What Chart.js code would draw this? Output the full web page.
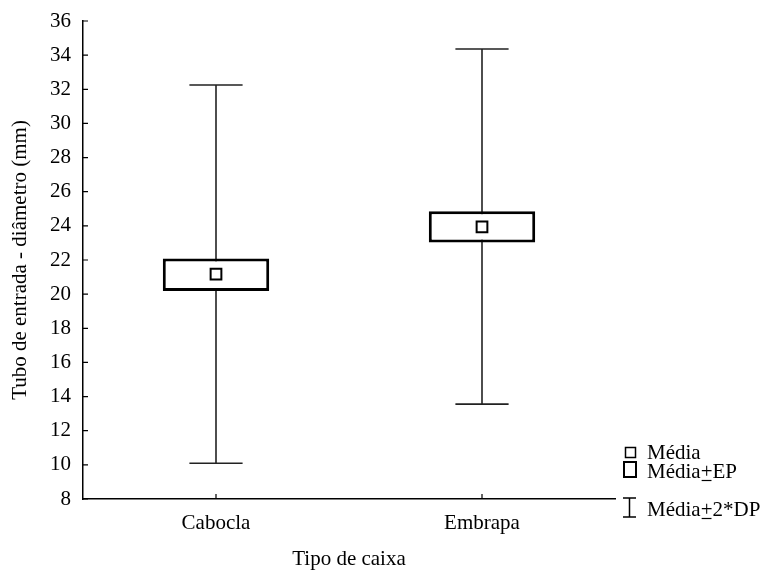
<!DOCTYPE html>
<html>
<head>
<meta charset="utf-8">
<script src="https://cdn.jsdelivr.net/npm/chart.js@4/dist/chart.umd.min.js"></script>
<style>
  html, body { margin: 0; padding: 0; background: #fff; }
  #wrap { width: 772px; height: 576px; }
</style>
</head>
<body>
<div id="wrap"><canvas id="boxChart" width="772" height="576"></canvas></div>
<script>
// dados
const categorias = ['Cabocla', 'Embrapa'];
const medias = [21.17, 23.94];
const epInferior = [20.19, 23.03];
const epSuperior = [22.09, 24.86];
const dpInferior = [10.09, 13.56];
const dpSuperior = [32.25, 34.36];
const yMin = 8, yMax = 36, yPasso = 2;

const fonte = 'Liberation Serif, Times New Roman, serif';

// bigodes (média ± 2*DP) e marcas de escala para dentro
const bigodes = {
    id: 'bigodes',
    beforeDatasetsDraw(chart) {
        const ctx = chart.ctx;
        const x = chart.scales.x, y = chart.scales.y;
        const meia = (x.width / categorias.length) * 0.1;
        ctx.save();
        ctx.strokeStyle = '#222';
        ctx.lineWidth = 1.6;
        categorias.forEach((c, i) => {
            const cx = x.getPixelForValue(i);
            const yt = y.getPixelForValue(dpSuperior[i]);
            const yb = y.getPixelForValue(dpInferior[i]);
            ctx.beginPath();
            ctx.moveTo(cx, yt); ctx.lineTo(cx, yb);
            ctx.moveTo(cx - meia, yt); ctx.lineTo(cx + meia, yt);
            ctx.moveTo(cx - meia, yb); ctx.lineTo(cx + meia, yb);
            ctx.stroke();
        });
        ctx.restore();
    },
    afterDraw(chart) {
        const ctx = chart.ctx;
        const x = chart.scales.x, y = chart.scales.y;
        const area = chart.chartArea;
        ctx.save();
        ctx.strokeStyle = '#000';
        ctx.lineWidth = 1.2;
        ctx.beginPath();
        y.ticks.forEach(t => {
            const py = y.getPixelForValue(t.value);
            ctx.moveTo(area.left, py); ctx.lineTo(area.left + 5, py);
        });
        categorias.forEach((c, i) => {
            const px = x.getPixelForValue(i);
            ctx.moveTo(px, area.bottom); ctx.lineTo(px, area.bottom - 5);
        });
        ctx.stroke();

        // legenda
        ctx.fillStyle = '#000';
        ctx.font = '21px ' + fonte;
        ctx.textBaseline = 'alphabetic';
        ctx.textAlign = 'left';
        const tx = 647;
        ctx.lineWidth = 1.5;
        ctx.strokeRect(625.5, 447.5, 10, 10);
        ctx.fillText('Média', tx, 459);

        ctx.lineWidth = 2;
        ctx.strokeRect(624, 462, 12, 15);
        const linhas = [['Média', 'EP', 478], ['Média', '2*DP', 516]];
        linhas.forEach(([a, b, by]) => {
            ctx.fillText(a, tx, by);
            const wa = ctx.measureText(a).width;
            ctx.fillText('+', tx + wa, by);
            const wp = ctx.measureText('+').width;
            ctx.lineWidth = 1.2;
            ctx.beginPath();
            ctx.moveTo(tx + wa + 1, by + 2.5); ctx.lineTo(tx + wa + wp - 1, by + 2.5);
            ctx.stroke();
            ctx.fillText(b, tx + wa + wp, by);
        });

        ctx.lineWidth = 1.5;
        ctx.beginPath();
        ctx.moveTo(629.5, 498); ctx.lineTo(629.5, 517);
        ctx.moveTo(623, 498); ctx.lineTo(636, 498);
        ctx.moveTo(623, 517); ctx.lineTo(636, 517);
        ctx.stroke();
        ctx.restore();
    }
};

const ctx = document.getElementById('boxChart').getContext('2d');
const boxChart = new Chart(ctx, {
    type: 'bar',
    data: {
        labels: categorias,
        datasets: [{
            label: 'Média±EP',
            data: epInferior.map((v, i) => [v, epSuperior[i]]),
            backgroundColor: '#fff',
            borderColor: '#000',
            borderWidth: 3,
            borderSkipped: false,
            barPercentage: 0.4,
            categoryPercentage: 1,
            order: 2
        }, {
            type: 'line',
            label: 'Média',
            data: medias,
            showLine: false,
            pointStyle: 'rect',
            pointRadius: 7.6,
            pointBorderWidth: 2,
            pointBackgroundColor: '#fff',
            pointBorderColor: '#000',
            order: 1
        }]
    },
    options: {
        responsive: false,
        animation: false,
        layout: { padding: { top: 21, right: 157, left: 0, bottom: 0 } },
        plugins: { legend: { display: false }, tooltip: { enabled: false } },
        scales: {
            x: {
                grid: { display: true, drawOnChartArea: false, drawTicks: false },
                border: { color: '#000', width: 1.5 },
                ticks: { color: '#000', font: { family: fonte, size: 21 }, padding: 12 },
                title: {
                    display: true, text: 'Tipo de caixa', color: '#000',
                    font: { family: fonte, size: 21 }, padding: { top: 16 }
                },
                afterFit(s) { s.height = 77; s.paddingLeft = 0; s.paddingRight = 0; }
            },
            y: {
                min: yMin, max: yMax,
                grid: { display: true, drawOnChartArea: false, drawTicks: false },
                border: { color: '#000', width: 1.5 },
                ticks: { stepSize: yPasso, color: '#000', font: { family: fonte, size: 21 }, padding: 12 },
                title: {
                    display: true, text: 'Tubo de entrada - diâmetro (mm)', color: '#000',
                    font: { family: fonte, size: 21 }, padding: { top: 8, bottom: 0 }
                },
                afterFit(s) { s.width = 83; s.paddingTop = 0; s.paddingBottom = 0; }
            }
        }
    },
    plugins: [bigodes]
});
</script>
</body>
</html>
